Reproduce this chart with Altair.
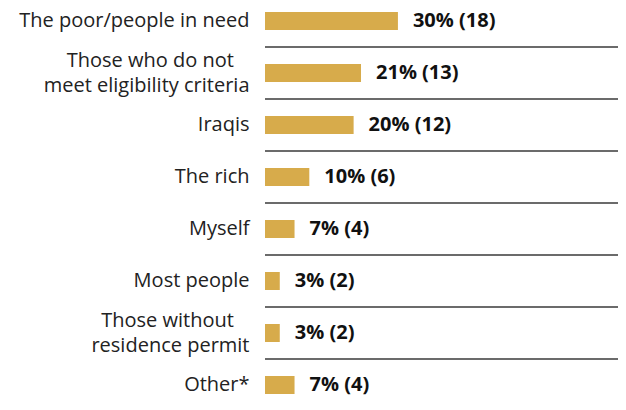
import altair as alt
import pandas as pd

categories = [
    "The poor/people in need",
    "Those who do not|meet eligibility criteria",
    "Iraqis",
    "The rich",
    "Myself",
    "Most people",
    "Those without|residence permit",
    "Other*",
]
percents = [30, 21, 20, 10, 7, 3, 3, 7]
counts = [18, 13, 12, 6, 4, 2, 2, 4]

df = pd.DataFrame({
    "category": categories,
    "pct": percents,
    "count": counts,
})
df["label"] = df["pct"].astype(str) + "% (" + df["count"].astype(str) + ")"
df["order"] = list(range(len(df)))

W = 353
XMAX = 47.8
STEP = 52.0
H = STEP * len(categories)
PAD_TOP = 13 - STEP / 2
SVG_H = 390
FONT = "Open Sans"
BAR = "#D7AB4B"
# pad the first line of two-line labels so both lines sit centred on each other
NB = "\u00a0" * 3 + "\u200b"

y_scale = alt.Scale(domain=categories, paddingInner=0, paddingOuter=0)
x_scale = alt.Scale(domain=[0, XMAX], nice=False, zero=True)

base = alt.Chart(df)

bars = base.mark_bar(height=18, color=BAR).encode(
    y=alt.Y("category:N", sort=categories, scale=y_scale,
            axis=alt.Axis(title=None, ticks=False, domain=False,
                          labelFontSize=20, labelColor="#222222", labelFont=FONT,
                          labelPadding=16, labelLineHeight=25, labelLimit=320,
                          labelOffset={"condition": {"test": "indexof(datum.label, '|') >= 0",
                                                     "value": -12.5},
                                       "value": 0},
                          labelExpr="split(replace(datum.label, '|', '" + NB + "|'), '|')")),
    x=alt.X("count:Q", scale=x_scale, axis=None),
)

text = base.mark_text(align="left", baseline="middle", dx=15, fontSize=20,
                      fontWeight="bold", font=FONT, color="#111111").encode(
    y=alt.Y("category:N", sort=categories, scale=y_scale),
    x=alt.X("count:Q", scale=x_scale),
    text="label:N",
)

rules = base.transform_filter("datum.order > 0").mark_rule(
    color="#3a3a3a", strokeWidth=1.5, yOffset=-STEP / 2).encode(
    y=alt.Y("category:N", sort=categories, scale=y_scale),
    x=alt.value(0),
    x2=alt.value(W),
)

chart = alt.layer(rules, bars, text).properties(
    width=W, height=H,
    autosize=alt.AutoSizeParams(type="none"),
    padding={"left": 257, "top": PAD_TOP, "right": 0,
             "bottom": SVG_H - PAD_TOP - H},
).configure_view(stroke=None)

chart.save("out.html", embed_options={"renderer": "svg", "actions": False})
